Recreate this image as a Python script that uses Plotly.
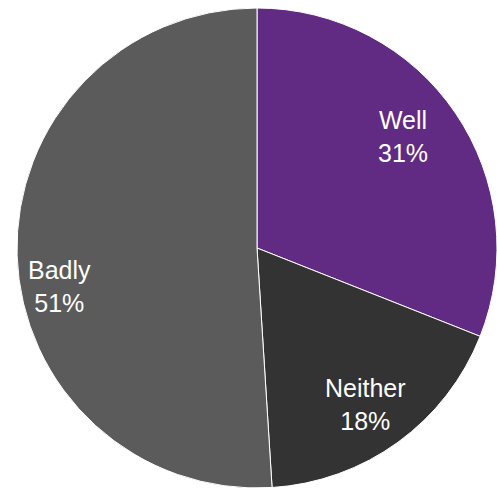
import plotly.graph_objects as go

labels = ["Well", "Neither", "Badly"]
shares = [31, 18, 51]
colors = ["#612B84", "#333333", "#5B5B5B"]

# label anchor points (paper coordinates) for each slice's text
label_pos = [(0.811, 0.720), (0.736, 0.172), (0.119, 0.413)]

fig = go.Figure(
    go.Pie(
        labels=labels,
        values=shares,
        sort=False,
        direction="clockwise",
        rotation=0,
        marker=dict(colors=colors, line=dict(color="white", width=1)),
        textinfo="none",
        hoverinfo="label+percent",
        showlegend=False,
        domain=dict(x=[17 / 497, 1.0], y=[0.0, 480 / 488]),
    )
)

total = sum(shares)
for lab, val, (px, py) in zip(labels, shares, label_pos):
    fig.add_annotation(
        x=px, y=py, xref="paper", yref="paper",
        xanchor="center", yanchor="middle",
        text=f"{lab}<br>{round(val / total * 100)}%",
        showarrow=False,
        font=dict(family="Liberation Sans, Arial", size=25, color="white"),
        align="center",
    )

fig.update_layout(
    width=497, height=488,
    margin=dict(l=0, r=0, t=0, b=0),
    paper_bgcolor="white",
    plot_bgcolor="white",
)

fig.write_html("out.html")
